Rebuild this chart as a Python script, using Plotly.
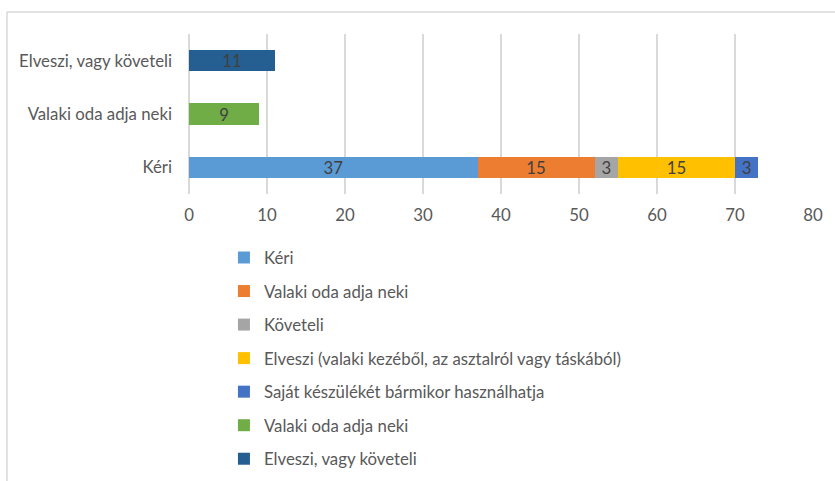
import plotly.graph_objects as go

categories = ["Kéri", "Valaki oda adja neki", "Elveszi, vagy követeli"]
series_names = [
    "Kéri",
    "Valaki oda adja neki",
    "Követeli",
    "Elveszi (valaki kezéből, az asztalról vagy táskából)",
    "Saját készülékét bármikor használhatja",
    "Valaki oda adja neki",
    "Elveszi, vagy követeli",
]
series_values = [
    [37, None, None],
    [15, None, None],
    [3, None, None],
    [15, None, None],
    [3, None, None],
    [None, 9, None],
    [None, None, 11],
]
colors = ["#5B9BD5", "#ED7D31", "#A5A5A5", "#FFC000", "#4472C4", "#70AD47", "#255E91"]
x_ticks = [0, 10, 20, 30, 40, 50, 60, 70, 80]

FONT = "Lato"
FS = 16.8
TXT = "#595959"

fig = go.Figure()
for i, (name, vals, col) in enumerate(zip(series_names, series_values, colors)):
    fig.add_trace(go.Bar(
        y=categories, x=vals, name=name, orientation="h",
        marker=dict(color=col, line=dict(width=0)),
        text=[("" if v is None else str(v)) for v in vals],
        textposition="inside", insidetextanchor="middle", textangle=0,
        constraintext="none",
        textfont=dict(color="#404040", size=FS, family=FONT),
        legendgroup=f"g{i}",
        hoverinfo="x+name",
    ))

fig.update_layout(
    barmode="stack",
    bargap=0.6,
    width=835, height=481,
    margin=dict(l=189, r=22, t=34, b=287, autoexpand=False),
    paper_bgcolor="white", plot_bgcolor="white",
    font=dict(family=FONT, size=FS, color=TXT),
    uniformtext=dict(mode="show", minsize=FS),
    legend=dict(
        orientation="v", traceorder="grouped", tracegroupgap=8.7,
        x=0.056, xanchor="left", y=-0.288, yanchor="top",
        font=dict(size=FS, color=TXT, family=FONT),
        itemclick=False, maxheight=400,
    ),
    xaxis=dict(
        range=[0, 80], tickvals=x_ticks, showgrid=True,
        gridcolor="#D9D9D9", gridwidth=1.5,
        zeroline=True, zerolinecolor="#D9D9D9", zerolinewidth=1.5,
        showline=False, ticks="", ticklabelstandoff=9,
        tickfont=dict(size=FS, color=TXT, family=FONT),
        fixedrange=True, automargin=False,
    ),
    yaxis=dict(
        categoryorder="array", categoryarray=categories,
        showgrid=False, showline=False, ticks="", ticklabelstandoff=16,
        tickfont=dict(size=FS, color=TXT, family=FONT),
        fixedrange=True, automargin=False,
    ),
    shapes=[
        dict(type="line", xref="paper", yref="paper",
             x0=-0.2917, x1=1.04, y0=1.1375, y1=1.1375,
             line=dict(color="#D9D9D9", width=1.5)),
        dict(type="line", xref="paper", yref="paper",
             x0=-0.2917, x1=-0.2917, y0=1.1375, y1=-1.9,
             line=dict(color="#D9D9D9", width=1.5)),
    ],
)

fig.write_html(
    "out.html",
    config={"displayModeBar": False},
    post_script="document.body.style.margin='0';document.body.style.overflow='hidden';",
)
